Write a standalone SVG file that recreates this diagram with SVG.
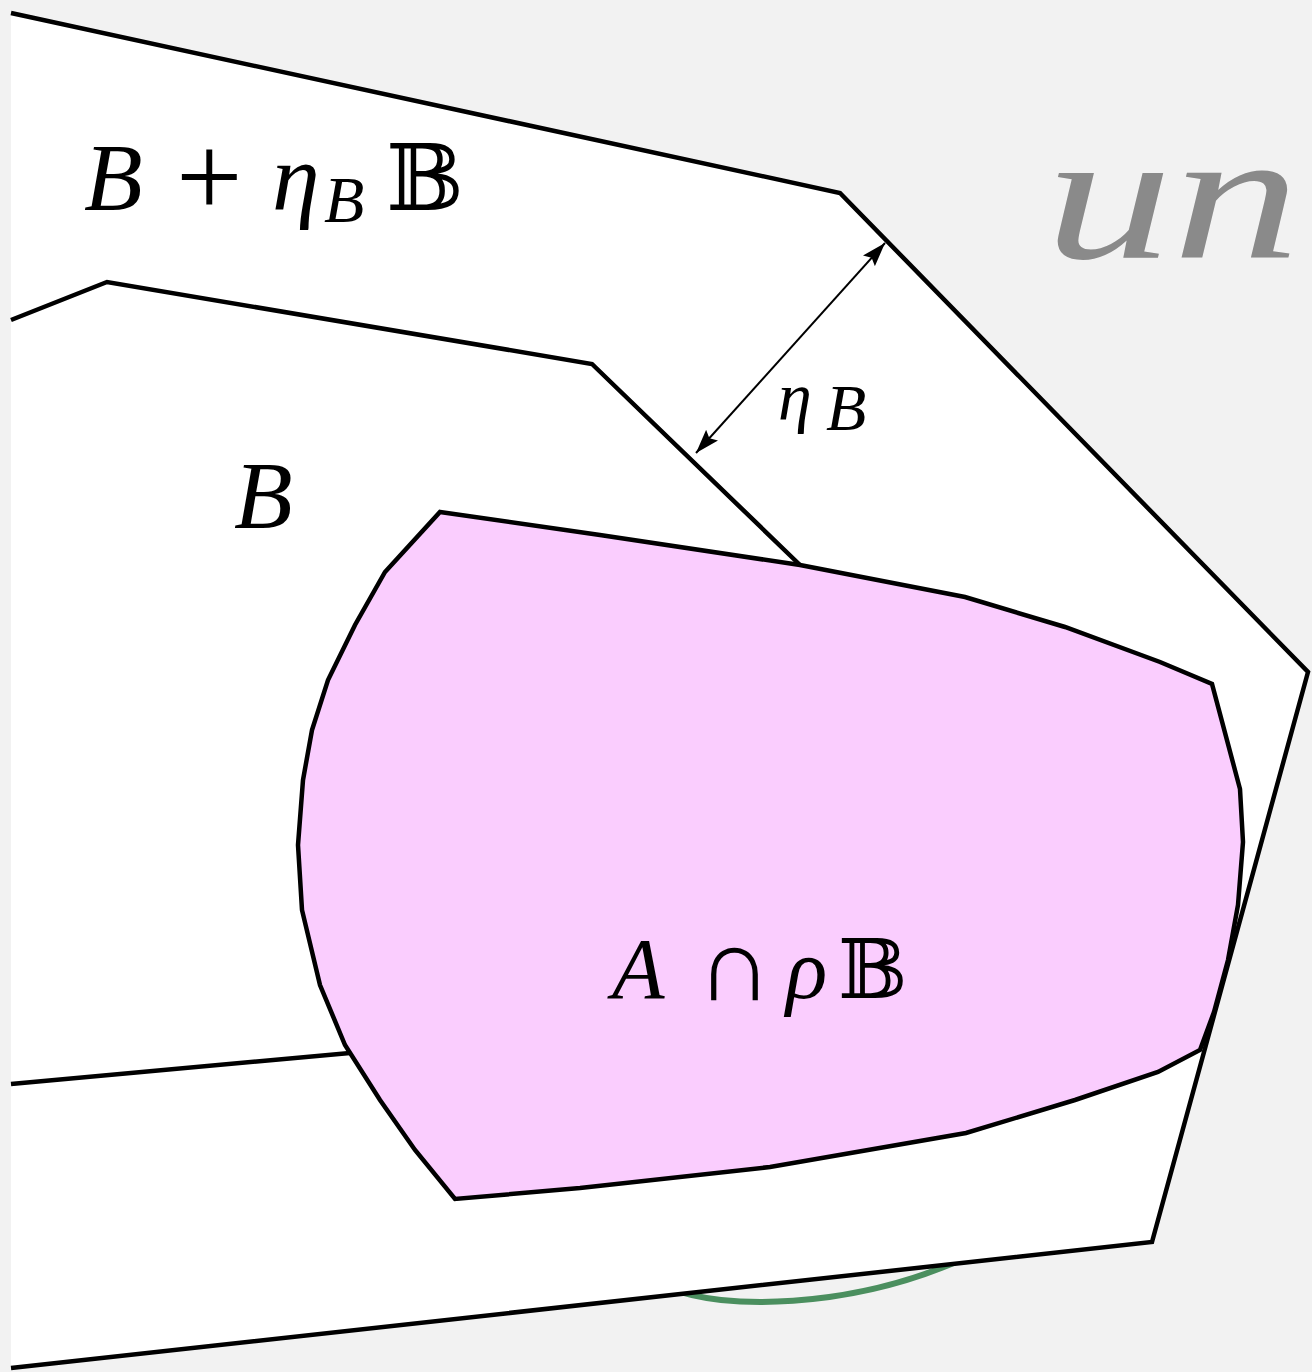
<svg xmlns="http://www.w3.org/2000/svg" width="1312" height="1372" viewBox="0 0 1312 1372">
<style>
.edge{fill:none;stroke:#000;stroke-width:4.5;stroke-linejoin:miter}
.math{font-family:"Liberation Serif","DejaVu Serif",serif;font-style:italic;fill:#000}
.up{font-family:"Liberation Serif","DejaVu Serif",serif;font-style:normal;fill:#000}
.bb{font-family:"DejaVu Serif","DejaVu Sans",serif;font-style:normal;fill:#000}
</style>
<defs>
<marker id="ah2" viewBox="0 0 24 16" refX="24" refY="8" markerWidth="24" markerHeight="16" markerUnits="userSpaceOnUse" orient="auto-start-reverse">
<path d="M0,0 L24,8 L0,16 L4,8 Z" fill="#000"/>
</marker>
</defs>
<rect width="1312" height="1372" fill="#f2f2f2"/>
<g id="green-arc">
<path d="M670,1288 C720,1310 850,1310 965,1258" fill="none" stroke="#4b8f5f" stroke-width="6"/>
</g>
<g id="outer-set">
<polygon points="11,13 840,193 1308,672 1152,1242 11,1368" fill="#fff"/>
<polyline class="edge" points="11,13 840,193 1308,672 1152,1242 11,1368"/>
</g>
<g id="set-B">
<polyline class="edge" points="11,320 107,282 592,364 800,565"/>
<polyline class="edge" points="11,1084 350,1053"/>
</g>
<g id="pink-set">
<path d="M440,512 L600,535 L800,565 L965,597 L1065,627 L1160,662 L1212,684 L1240,789 L1243,842 L1238,905 L1228,960 L1214,1012 L1200,1050 L1158,1072 L1075,1100 L966,1133 L770,1167 L580,1188 L455,1199 L415,1150 L380,1100 L345,1045 L320,985 L302,910 L298,845 L303,780 L312,730 L328,680 L355,625 L385,572 Z" fill="#facdfe" stroke="#000" stroke-width="4.5" stroke-linejoin="miter"/>
</g>
<g id="connectors">
<line x1="696" y1="453" x2="885" y2="243" stroke="#000" stroke-width="2" marker-start="url(#ah2)" marker-end="url(#ah2)"/>
</g>
<g id="labels">
<text class="math" x="84" y="210" font-size="96">B</text>
<text class="up" x="176" y="217" font-size="118">+</text>
<text class="math" x="272" y="210" font-size="96">η</text>
<text class="math" x="324" y="222" font-size="66">B</text>
<text class="bb" x="386" y="210" font-size="92">𝔹</text>
<text class="math" x="778" y="420" font-size="68">η</text>
<text class="math" x="826" y="430" font-size="66">B</text>
<text class="math" x="234" y="528" font-size="96">B</text>
<text class="math" x="612" y="998" font-size="86">A</text>
<text class="up" x="697" y="1000" font-size="104">∩</text>
<text class="math" x="786" y="998" font-size="86">ρ</text>
<text class="bb" x="838" y="998" font-size="82">𝔹</text>
<text x="1045" y="258" font-family="'Liberation Serif',serif" font-style="italic" font-size="185" fill="#8a8a8a" textLength="255" lengthAdjust="spacingAndGlyphs">un</text>
</g>
</svg>
